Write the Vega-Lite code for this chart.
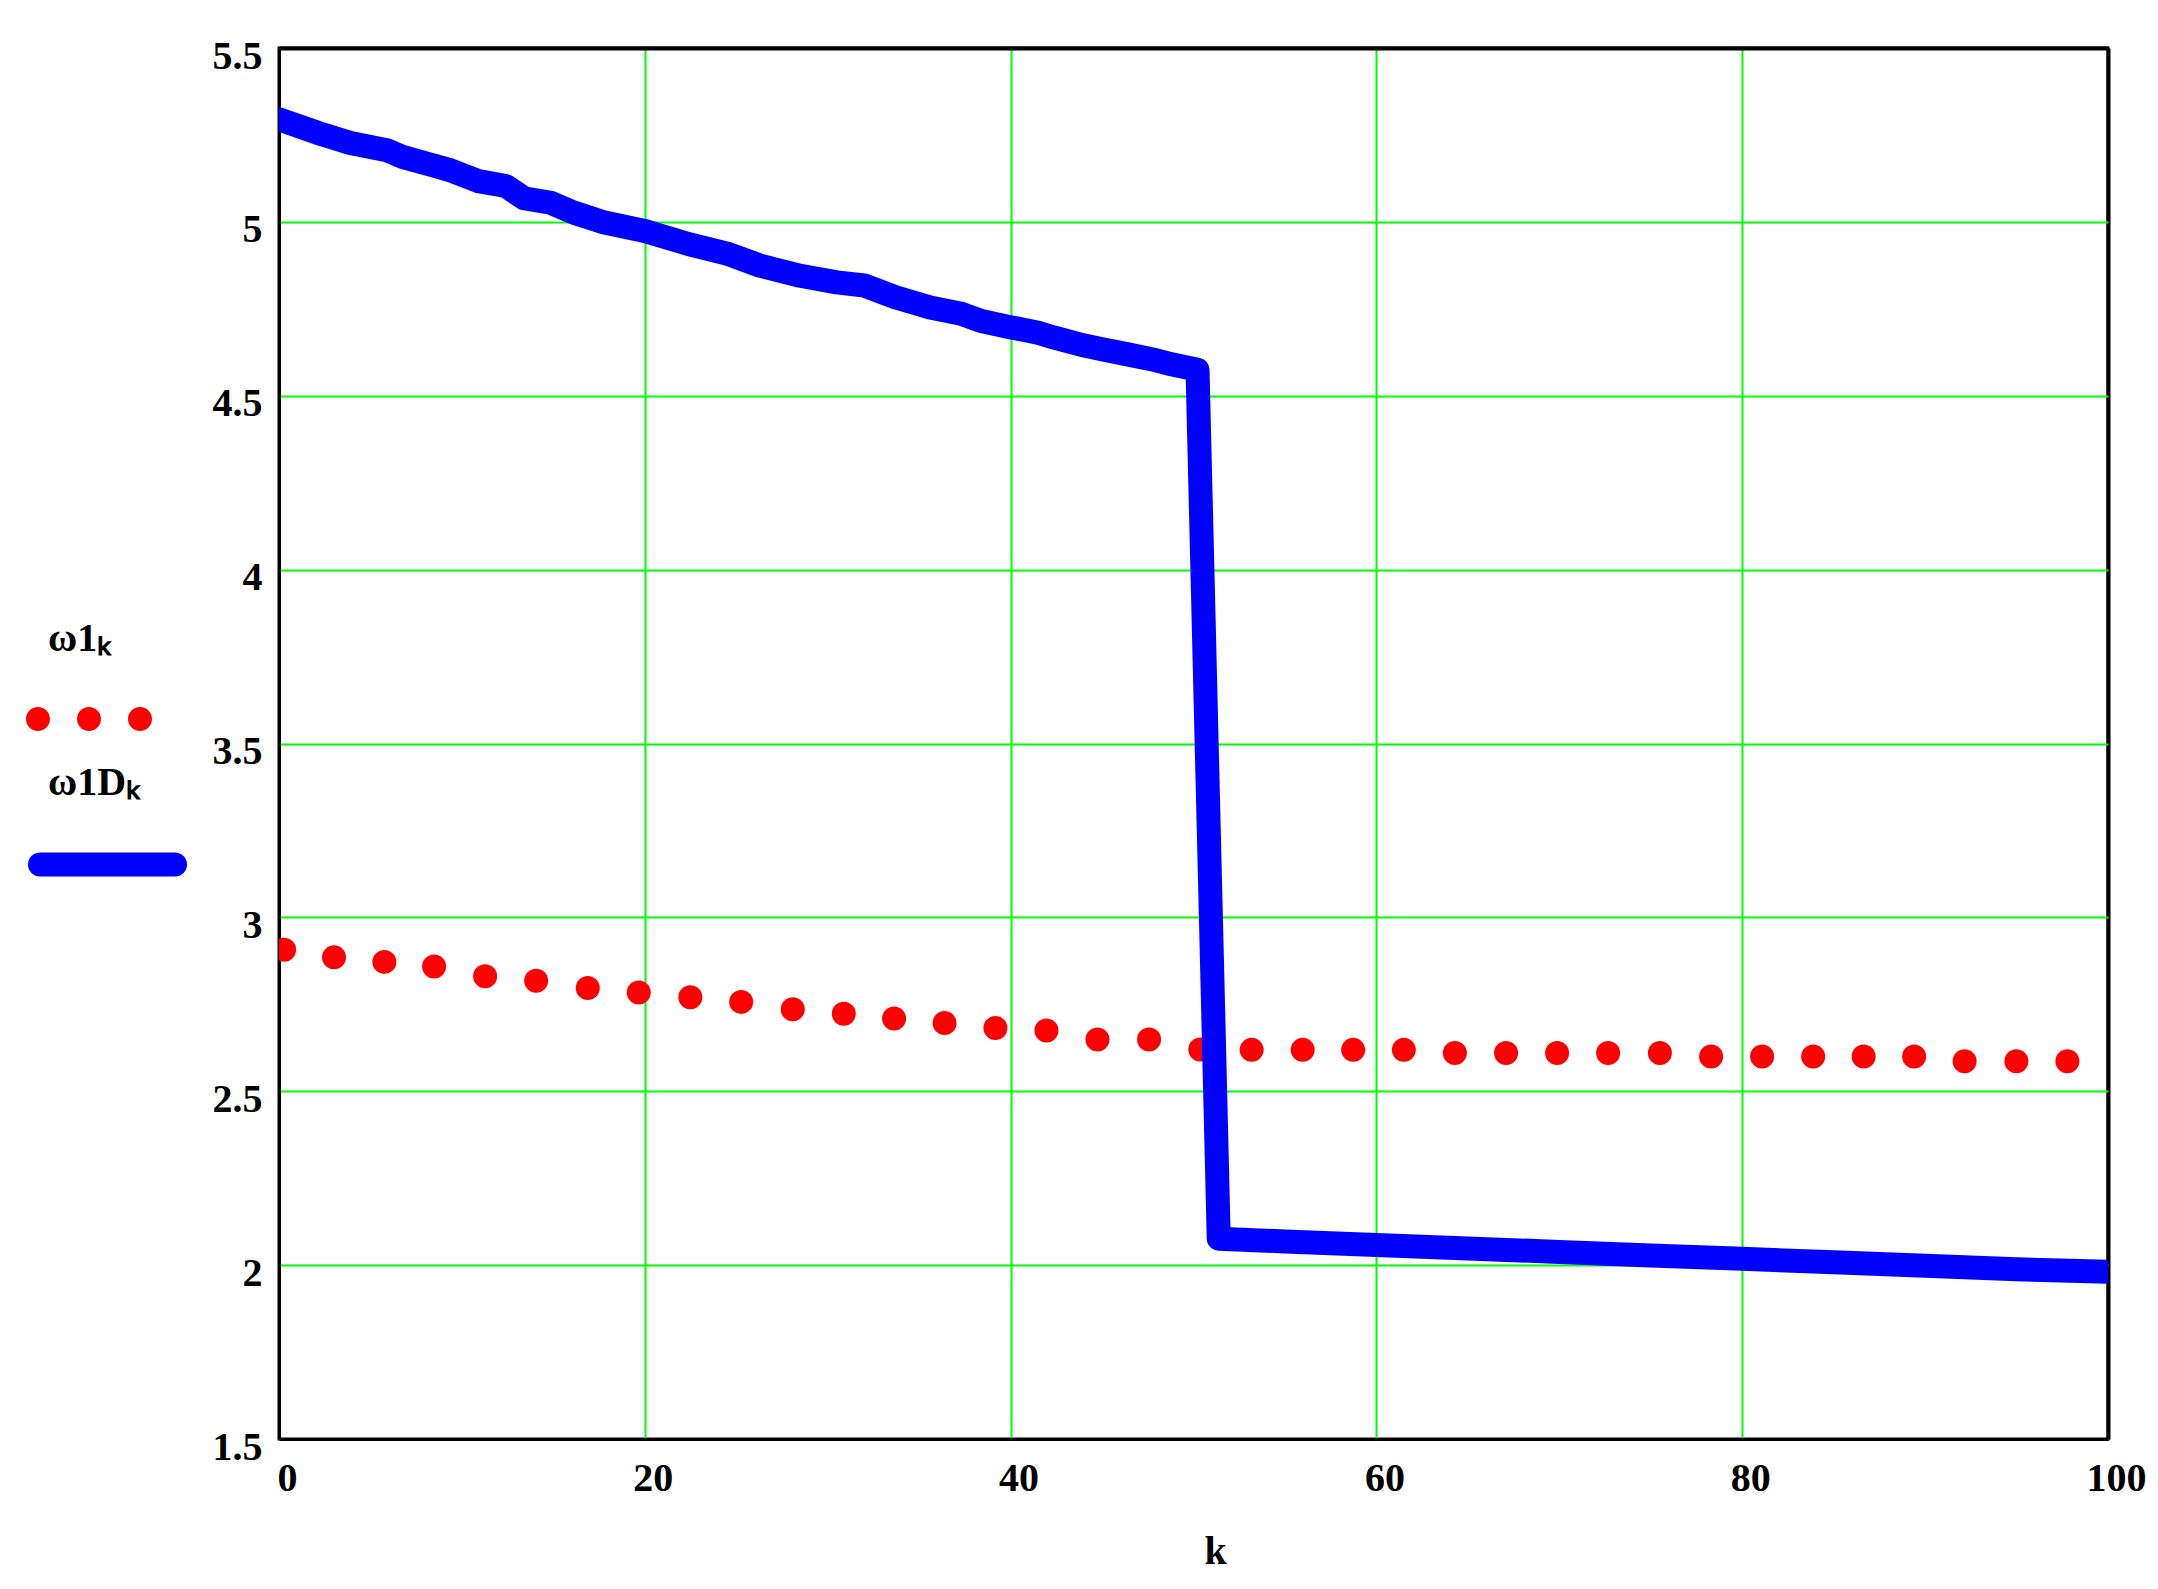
{
  "$schema": "https://vega.github.io/schema/vega-lite/v6.json",
  "width": 1829,
  "height": 1391,
  "autosize": {"type": "none"},
  "padding": {"left": 279, "top": 48, "right": 50, "bottom": 150},
  "background": "white",
  "config": {
    "view": {"stroke": "black", "strokeWidth": 3},
    "font": "Liberation Serif",
    "axis": {
      "domainColor": "black", "domainWidth": 3,
      "gridOpacity": 1,
      "ticks": false, "tickSize": 0,
      "labelFont": "Liberation Serif", "labelFontWeight": "bold", "labelFontSize": 40, "labelColor": "black",
      "labelFlush": false, "labelOverlap": false,
      "titleFont": "Liberation Serif", "titleFontWeight": "bold", "titleFontSize": 40, "titleColor": "black"
    },
    "legend": {
      "titleFont": "Liberation Serif", "titleFontWeight": "bold", "titleFontSize": 40, "titleColor": "black",
      "titleLimit": 600, "padding": 0, "labelFontSize": 1
    }
  },
  "datasets": {
    "w1": [
      {"k": 0.28, "v": 2.907, "series": "ω1ₖ"},
      {"k": 3.01, "v": 2.885, "series": "ω1ₖ"},
      {"k": 5.76, "v": 2.872, "series": "ω1ₖ"},
      {"k": 8.48, "v": 2.859, "series": "ω1ₖ"},
      {"k": 11.27, "v": 2.831, "series": "ω1ₖ"},
      {"k": 14.06, "v": 2.818, "series": "ω1ₖ"},
      {"k": 16.88, "v": 2.797, "series": "ω1ₖ"},
      {"k": 19.67, "v": 2.784, "series": "ω1ₖ"},
      {"k": 22.49, "v": 2.770, "series": "ω1ₖ"},
      {"k": 25.27, "v": 2.757, "series": "ω1ₖ"},
      {"k": 28.09, "v": 2.736, "series": "ω1ₖ"},
      {"k": 30.88, "v": 2.723, "series": "ω1ₖ"},
      {"k": 33.63, "v": 2.709, "series": "ω1ₖ"},
      {"k": 36.39, "v": 2.696, "series": "ω1ₖ"},
      {"k": 39.17, "v": 2.682, "series": "ω1ₖ"},
      {"k": 41.96, "v": 2.675, "series": "ω1ₖ"},
      {"k": 44.75, "v": 2.649, "series": "ω1ₖ"},
      {"k": 47.57, "v": 2.649, "series": "ω1ₖ"},
      {"k": 50.37, "v": 2.620, "series": "ω1ₖ"},
      {"k": 53.18, "v": 2.619, "series": "ω1ₖ"},
      {"k": 55.97, "v": 2.619, "series": "ω1ₖ"},
      {"k": 58.73, "v": 2.619, "series": "ω1ₖ"},
      {"k": 61.50, "v": 2.619, "series": "ω1ₖ"},
      {"k": 64.29, "v": 2.610, "series": "ω1ₖ"},
      {"k": 67.09, "v": 2.610, "series": "ω1ₖ"},
      {"k": 69.88, "v": 2.610, "series": "ω1ₖ"},
      {"k": 72.67, "v": 2.610, "series": "ω1ₖ"},
      {"k": 75.50, "v": 2.610, "series": "ω1ₖ"},
      {"k": 78.30, "v": 2.600, "series": "ω1ₖ"},
      {"k": 81.09, "v": 2.600, "series": "ω1ₖ"},
      {"k": 83.88, "v": 2.600, "series": "ω1ₖ"},
      {"k": 86.64, "v": 2.600, "series": "ω1ₖ"},
      {"k": 89.40, "v": 2.600, "series": "ω1ₖ"},
      {"k": 92.16, "v": 2.586, "series": "ω1ₖ"},
      {"k": 94.99, "v": 2.586, "series": "ω1ₖ"},
      {"k": 97.78, "v": 2.586, "series": "ω1ₖ"}
    ],
    "w1D": [
      {"k": 0, "v": 5.295, "series": "ω1Dₖ"},
      {"k": 2.4, "v": 5.251, "series": "ω1Dₖ"},
      {"k": 3.9, "v": 5.227, "series": "ω1Dₖ"},
      {"k": 5.9, "v": 5.206, "series": "ω1Dₖ"},
      {"k": 6.8, "v": 5.186, "series": "ω1Dₖ"},
      {"k": 8.25, "v": 5.165, "series": "ω1Dₖ"},
      {"k": 9.35, "v": 5.149, "series": "ω1Dₖ"},
      {"k": 10.9, "v": 5.117, "series": "ω1Dₖ"},
      {"k": 12.4, "v": 5.103, "series": "ω1Dₖ"},
      {"k": 13.4, "v": 5.068, "series": "ω1Dₖ"},
      {"k": 14.85, "v": 5.055, "series": "ω1Dₖ"},
      {"k": 16.1, "v": 5.027, "series": "ω1Dₖ"},
      {"k": 17.8, "v": 4.998, "series": "ω1Dₖ"},
      {"k": 20.0, "v": 4.974, "series": "ω1Dₖ"},
      {"k": 22.4, "v": 4.936, "series": "ω1Dₖ"},
      {"k": 24.6, "v": 4.907, "series": "ω1Dₖ"},
      {"k": 26.3, "v": 4.874, "series": "ω1Dₖ"},
      {"k": 28.5, "v": 4.845, "series": "ω1Dₖ"},
      {"k": 30.5, "v": 4.826, "series": "ω1Dₖ"},
      {"k": 32.0, "v": 4.817, "series": "ω1Dₖ"},
      {"k": 33.7, "v": 4.783, "series": "ω1Dₖ"},
      {"k": 35.6, "v": 4.754, "series": "ω1Dₖ"},
      {"k": 37.3, "v": 4.736, "series": "ω1Dₖ"},
      {"k": 38.4, "v": 4.715, "series": "ω1Dₖ"},
      {"k": 39.9, "v": 4.698, "series": "ω1Dₖ"},
      {"k": 41.5, "v": 4.681, "series": "ω1Dₖ"},
      {"k": 42.4, "v": 4.667, "series": "ω1Dₖ"},
      {"k": 43.9, "v": 4.646, "series": "ω1Dₖ"},
      {"k": 45.0, "v": 4.634, "series": "ω1Dₖ"},
      {"k": 46.4, "v": 4.619, "series": "ω1Dₖ"},
      {"k": 47.7, "v": 4.605, "series": "ω1Dₖ"},
      {"k": 48.6, "v": 4.593, "series": "ω1Dₖ"},
      {"k": 49.5, "v": 4.583, "series": "ω1Dₖ"},
      {"k": 50.22, "v": 4.575, "series": "ω1Dₖ"},
      {"k": 51.38, "v": 2.076, "series": "ω1Dₖ"},
      {"k": 55, "v": 2.068, "series": "ω1Dₖ"},
      {"k": 60, "v": 2.058, "series": "ω1Dₖ"},
      {"k": 65, "v": 2.048, "series": "ω1Dₖ"},
      {"k": 70, "v": 2.038, "series": "ω1Dₖ"},
      {"k": 75, "v": 2.028, "series": "ω1Dₖ"},
      {"k": 80, "v": 2.018, "series": "ω1Dₖ"},
      {"k": 85, "v": 2.008, "series": "ω1Dₖ"},
      {"k": 90, "v": 1.998, "series": "ω1Dₖ"},
      {"k": 95, "v": 1.988, "series": "ω1Dₖ"},
      {"k": 100, "v": 1.981, "series": "ω1Dₖ"}
    ]
  },
  "layer": [
    {
      "data": {"name": "w1"},
      "mark": {"type": "circle", "size": 576, "opacity": 1, "clip": true},
      "encoding": {
        "x": {
          "field": "k", "type": "quantitative",
          "scale": {"domain": [0, 100], "nice": false, "zero": false},
          "axis": {
            "values": [0, 20, 40, 60, 80, 100], "format": "d", "title": "k",
            "gridColor": {"condition": {"test": "datum.value >= 100", "value": "black"}, "value": "#00ff00"},
            "gridWidth": {"condition": {"test": "datum.value >= 100", "value": 4}, "value": 2},
            "labelPadding": 51, "labelBaseline": "alphabetic", "labelOffset": 8, "labelAlign": "center",
            "titleX": 936, "titleY": 124, "titleBaseline": "alphabetic", "titleAlign": "center"
          }
        },
        "y": {
          "field": "v", "type": "quantitative",
          "scale": {"domain": [1.5, 5.5], "nice": false, "zero": false},
          "axis": {
            "values": [1.5, 2, 2.5, 3, 3.5, 4, 4.5, 5, 5.5], "format": "~g", "title": null,
            "gridColor": {"condition": {"test": "datum.value >= 5.5", "value": "black"}, "value": "#00ff00"},
            "gridWidth": {"condition": {"test": "datum.value >= 5.5", "value": 4}, "value": 2},
            "labelPadding": 17, "labelBaseline": "alphabetic", "labelOffset": 20
          }
        },
        "fill": {
          "field": "series", "type": "nominal",
          "scale": {"domain": ["ω1ₖ"], "range": ["#ff0000"]},
          "legend": {
            "title": "ω1ₖ", "orient": "none", "legendX": -231, "legendY": 571,
            "symbolType": "M-1,0A0.19,0.19,0,1,0,-0.62,0A0.19,0.19,0,1,0,-1,0ZM-0.19,0A0.19,0.19,0,1,0,0.19,0A0.19,0.19,0,1,0,-0.19,0ZM0.62,0A0.19,0.19,0,1,0,1,0A0.19,0.19,0,1,0,0.62,0Z",
            "symbolSize": 15876, "symbolOffset": -22, "symbolStrokeWidth": 0, "symbolOpacity": 1,
            "labelExpr": "''", "titlePadding": -3
          }
        }
      }
    },
    {
      "data": {"name": "w1D"},
      "mark": {"type": "line", "strokeWidth": 24, "strokeCap": "round", "strokeJoin": "round", "clip": true},
      "encoding": {
        "x": {"field": "k", "type": "quantitative"},
        "y": {"field": "v", "type": "quantitative"},
        "stroke": {
          "field": "series", "type": "nominal",
          "scale": {"domain": ["ω1Dₖ"], "range": ["#0000ff"]},
          "legend": {
            "title": "ω1Dₖ", "orient": "none", "legendX": -231, "legendY": 715,
            "symbolType": "stroke", "symbolSize": 18225, "symbolStrokeWidth": 24, "symbolOffset": -20,
            "labelExpr": "''", "titlePadding": -18,
            "encode": {"symbols": {"update": {"strokeCap": {"value": "round"}}}}
          }
        }
      }
    }
  ]
}
